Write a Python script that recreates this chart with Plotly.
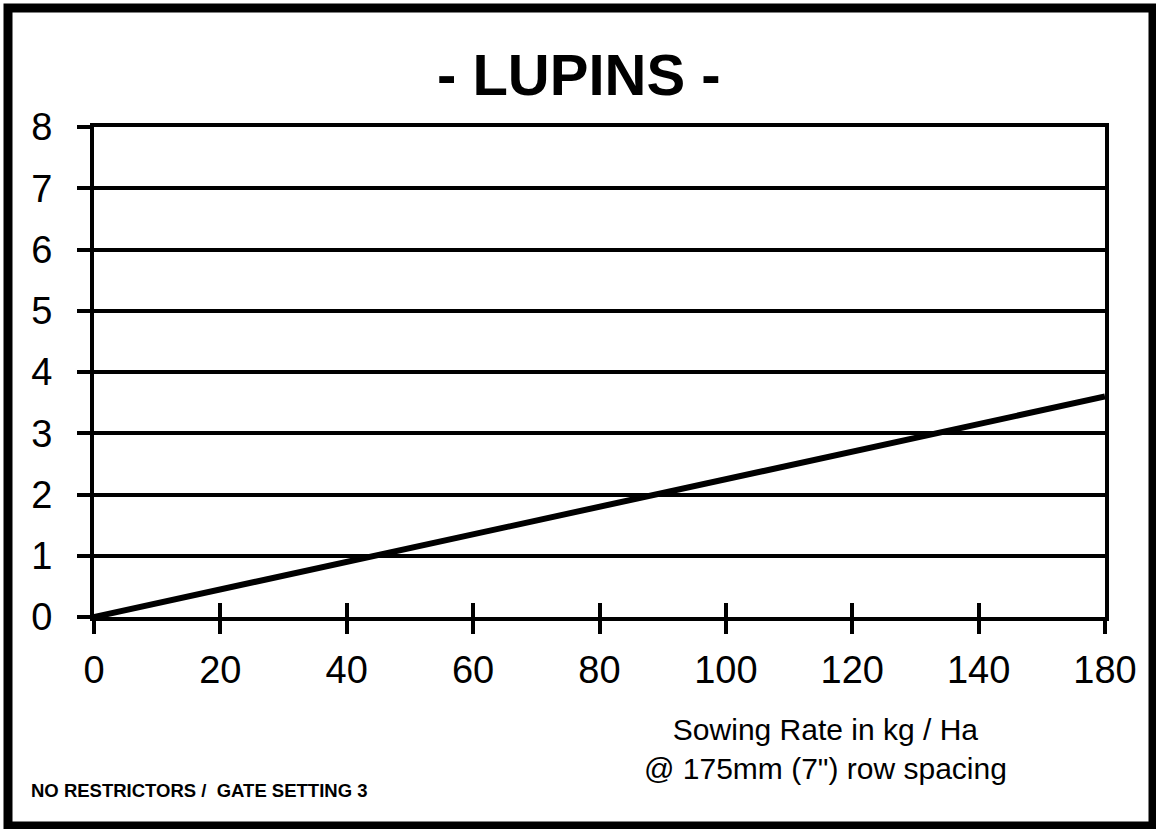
import plotly.graph_objects as go

# ---- data ----
x_labels = ["0", "20", "40", "60", "80", "100", "120", "140", "180"]
y_values = [0, 0.45, 0.9, 1.35, 1.8, 2.25, 2.7, 3.15, 3.6]
y_ticks = [0, 1, 2, 3, 4, 5, 6, 7, 8]

title_text = "- LUPINS -"
x_title_line1 = "Sowing Rate in kg / Ha"
x_title_line2 = "@ 175mm (7\") row spacing"
footnote = "NO RESTRICTORS /  GATE SETTING 3"

W, H = 1156, 829
L, R, T, B = 94, 51, 127, 212
PW, PH = W - L - R, H - T - B
FONT = "Liberation Sans, Arial, sans-serif"


def px_x(p):
    return (p - L) / PW


def px_y(p):
    return (H - B - p) / PH


fig = go.Figure()
fig.add_trace(go.Scatter(
    x=x_labels, y=y_values, mode="lines",
    line=dict(color="black", width=6),
    showlegend=False, hoverinfo="skip",
))

axis_font = dict(family=FONT, size=38, color="black")

fig.update_layout(
    width=W, height=H,
    margin=dict(l=L, r=R, t=T, b=B),
    paper_bgcolor="white", plot_bgcolor="white",
    showlegend=False,
    font=dict(family=FONT, color="black"),
    xaxis=dict(
        type="category", categoryorder="array", categoryarray=x_labels,
        range=[0, len(x_labels) - 1],
        showgrid=False, zeroline=False,
        showline=True, linecolor="black", linewidth=4, mirror=True,
        ticks="outside", ticklen=13, tickwidth=4, tickcolor="black",
        tickfont=axis_font, ticklabelstandoff=3,
    ),
    xaxis2=dict(
        overlaying="x", range=[0, len(x_labels) - 1],
        tickmode="array", tickvals=list(range(len(x_labels))),
        showticklabels=False, showgrid=False, zeroline=False, showline=False,
        ticks="inside", ticklen=14, tickwidth=4, tickcolor="black",
        side="bottom", anchor="y",
    ),
    yaxis=dict(
        range=[0, 8], tickmode="array", tickvals=y_ticks,
        showgrid=True, gridcolor="black", gridwidth=4,
        zeroline=False,
        showline=True, linecolor="black", linewidth=4, mirror=True,
        ticks="outside", ticklen=13, tickwidth=4, tickcolor="black",
        tickfont=axis_font, ticklabelstandoff=17,
    ),
)

# invisible trace so xaxis2 (inner tick marks) is rendered
fig.add_trace(go.Scatter(x=[0], y=[0], xaxis="x2", mode="markers",
                         marker=dict(opacity=0), showlegend=False,
                         hoverinfo="skip"))

annotations = [
    dict(text="<b>" + title_text + "</b>", x=px_x(579), y=px_y(74),
         xref="paper", yref="paper", xanchor="center", yanchor="middle",
         showarrow=False, font=dict(family=FONT, size=58, color="black")),
    dict(text=x_title_line1 + "<br>" + x_title_line2,
         x=px_x(825), y=px_y(711), xref="paper", yref="paper",
         xanchor="center", yanchor="top", align="center",
         showarrow=False, font=dict(family=FONT, size=30, color="black")),
    dict(text="<b>" + footnote + "</b>", x=px_x(29), y=px_y(790),
         xref="paper", yref="paper", xanchor="left", yanchor="middle",
         showarrow=False, font=dict(family=FONT, size=18.5, color="black")),
]
fig.update_layout(annotations=annotations)

# outer frame around the whole picture
fig.add_shape(type="rect", xref="paper", yref="paper",
              x0=px_x(8), x1=px_x(1153), y0=px_y(826), y1=px_y(8),
              line=dict(color="black", width=9), fillcolor="rgba(0,0,0,0)",
              layer="above")

fig.write_html(
    "out.html",
    config={"displayModeBar": False},
    post_script="document.body.style.margin='0';document.body.style.overflow='hidden';",
)
